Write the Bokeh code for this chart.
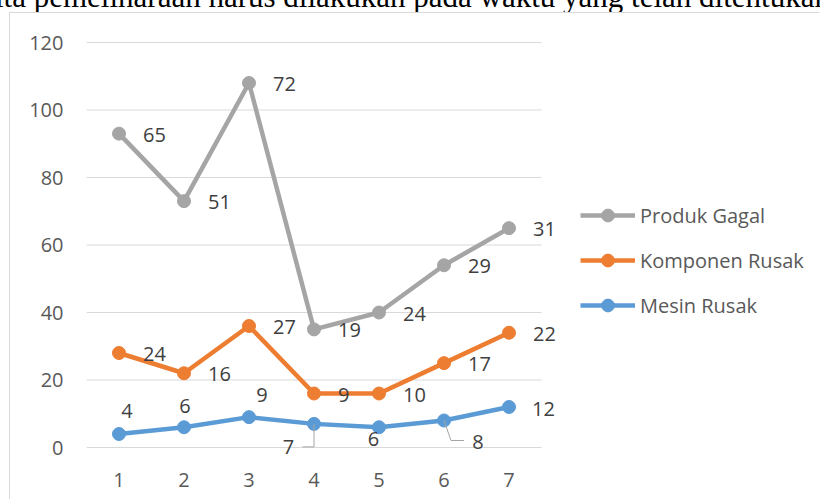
from bokeh.plotting import figure
from bokeh.models import Range1d, FixedTicker, Legend, LegendItem, Div
from bokeh.layouts import column
from bokeh.core.properties import value
from bokeh.embed import file_html
from bokeh.resources import INLINE

# ---- data ----
categories = [1, 2, 3, 4, 5, 6, 7]
mesin_rusak = [4, 6, 9, 7, 6, 8, 12]
komponen_rusak = [24, 16, 27, 9, 10, 17, 22]
produk_gagal = [65, 51, 72, 19, 24, 29, 31]
y_ticks = [0, 20, 40, 60, 80, 100, 120]
series_names = ["Produk Gagal", "Komponen Rusak", "Mesin Rusak"]
page_text = "ita pemeliharaan harus dilakukan pada waktu yang telah ditentukan"

# stacked line chart
mesin_top = list(mesin_rusak)
komponen_top = [a + b for a, b in zip(mesin_top, komponen_rusak)]
produk_top = [a + b for a, b in zip(komponen_top, produk_gagal)]

# ---- styling / layout ----
GRAY, ORANGE, BLUE = "#A5A5A5", "#ED7D31", "#5B9BD5"
GRID = "#D9D9D9"
FONT = "Open Sans"
FS = "20px"

W, H = 810, 487
BL, BR, BT, BB = 76, 8, 24, 40
PX_X = 65.0            # pixels per category
PX_Y = 405.0 / 120.0   # pixels per unit
ZERO_FROM_BOTTOM = 13  # px between the zero line and the frame bottom

frame_w = W - BL - BR
frame_h = H - BT - BB
x0 = categories[0] - 0.5
x1 = categories[-1] + 0.5
y_start = -ZERO_FROM_BOTTOM / PX_Y
y_end = y_start + frame_h / PX_Y

# cut-off line of the surrounding document, above the chart
top_div = Div(text=f'<span style="position:relative;top:-19px;margin-left:-5px;white-space:nowrap;'
                   f'font-family:\'Liberation Serif\';font-size:31px;line-height:1;color:#000">'
                   f'{page_text}</span>',
              width=820, height=12, margin=0,
              styles={"overflow": "hidden", "height": "12px"})

p = figure(width=W, height=H, output_backend="svg", toolbar_location=None,
           x_range=Range1d(x0, x0 + frame_w / PX_X), y_range=Range1d(y_start, y_end),
           min_border_left=BL, min_border_right=BR, min_border_top=BT, min_border_bottom=BB)
p.margin = 0
p.styles = {"border-top": "1px solid #D9D9D9", "border-left": "1px solid #D9D9D9",
            "margin-left": "9px"}
p.outline_line_color = None
p.background_fill_color = "white"
p.border_fill_color = "white"
p.xgrid.visible = False
p.ygrid.visible = False

# horizontal gridlines across the category band only
p.segment(x0=[x0] * len(y_ticks), x1=[x1] * len(y_ticks), y0=y_ticks, y1=y_ticks,
          line_color=GRID, line_width=1)

p.yaxis.ticker = FixedTicker(ticks=y_ticks)
p.yaxis.axis_line_color = None
p.yaxis.major_tick_line_color = None
p.yaxis.minor_tick_line_color = None
p.yaxis.major_tick_out = 0
p.yaxis.major_tick_in = 0
p.yaxis.major_label_standoff = 23
p.yaxis.major_label_text_font = FONT
p.yaxis.major_label_text_font_size = FS
p.yaxis.major_label_text_color = "#595959"

p.xaxis.ticker = FixedTicker(ticks=categories)
p.xaxis.axis_line_color = None
p.xaxis.major_tick_line_color = None
p.xaxis.minor_tick_line_color = None
p.xaxis.major_tick_out = 0
p.xaxis.major_tick_in = 0
p.xaxis.major_label_standoff = 12
p.xaxis.major_label_text_font = FONT
p.xaxis.major_label_text_font_size = FS
p.xaxis.major_label_text_color = "#595959"

renderers = {}
for name, ys, color in [("Mesin Rusak", mesin_top, BLUE),
                        ("Komponen Rusak", komponen_top, ORANGE),
                        ("Produk Gagal", produk_top, GRAY)]:
    l = p.line(categories, ys, line_color=color, line_width=4.5, line_join="round")
    s = p.scatter(categories, ys, marker="circle", size=13, fill_color=color, line_color=color)
    renderers[name] = [l, s]

# leader lines for moved labels (pixel offsets from the point, y down)
leaders = {3: [(0, 0), (0, 23), (-11.5, 23)], 5: [(0, 0), (7, 20), (20, 20)]}
lx, ly = [], []
for i, pts in leaders.items():
    lx.append([categories[i] + dx / PX_X for dx, dy in pts])
    ly.append([mesin_top[i] - dy / PX_Y for dx, dy in pts])
p.multi_line(lx, ly, line_color="#A6A6A6", line_width=1)

# data labels
LBL = "#404040"
for ys, vals in [(produk_top, produk_gagal), (komponen_top, komponen_rusak)]:
    p.text(categories, ys, text=[str(v) for v in vals], x_offset=24, y_offset=1,
           text_align="left", text_baseline="middle", text_font=value(FONT),
           text_font_size=FS, text_color=LBL)

blue_off = [(8, -23), (1, -21.5), (13, -22), (-25.5, 23.5), (-5.5, 12), (34, 21.5), (34.5, 1.5)]
p.text(categories, mesin_top, text=[str(v) for v in mesin_rusak],
       x_offset=[o[0] for o in blue_off], y_offset=[o[1] for o in blue_off],
       text_align="center", text_baseline="middle", text_font=value(FONT),
       text_font_size=FS, text_color=LBL)

legend = Legend(items=[LegendItem(label=n, renderers=renderers[n]) for n in series_names],
                location=(494, 139), orientation="vertical",
                glyph_width=55, glyph_height=32, label_height=32, spacing=13,
                label_standoff=5, padding=0, margin=0,
                label_text_font=FONT, label_text_font_size=FS, label_text_color="#595959",
                background_fill_alpha=0, border_line_color=None)
p.add_layout(legend)

layout = column(top_div, p, spacing=0, margin=0)
open("out.html", "w").write(file_html(layout, INLINE))
